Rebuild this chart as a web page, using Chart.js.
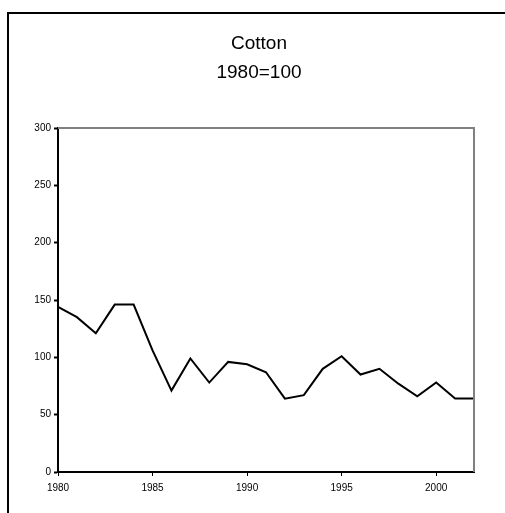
<!DOCTYPE html>
<html>
<head>
<meta charset="utf-8">
<script src="https://cdn.jsdelivr.net/npm/chart.js@4/dist/chart.umd.min.js"></script>
<style>
  html, body { margin: 0; padding: 0; background: #fff; overflow: hidden; width: 505px; height: 513px; }
  #frame { position: absolute; left: 7px; top: 12px; width: 600px; height: 600px;
           border-left: 2px solid #000; border-top: 2px solid #000; box-sizing: border-box; }
  #wrap { position: absolute; left: 0; top: 0; width: 518px; height: 513px; }
</style>
</head>
<body>
<div id="frame"></div>
<div id="wrap"><canvas id="chart" width="518" height="513"></canvas></div>
<script>
// Cotton price index, yearly
const years = [1980, 1981, 1982, 1983, 1984, 1985, 1986, 1987, 1988, 1989, 1990, 1991,
               1992, 1993, 1994, 1995, 1996, 1997, 1998, 1999, 2000, 2001, 2002];
const cottonIndex = [144, 135, 121, 146, 146, 106, 71, 99, 78, 96, 94, 87,
                     64, 67, 90, 101, 85, 90, 77, 66, 78, 64, 64];
const titleLines = ['Cotton', '1980=100'];

const points = years.map((y, i) => ({ x: y, y: cottonIndex[i] }));

// grey top and right edges of the plot box
const plotBox = {
  id: 'plotBox',
  afterDraw(chart) {
    const a = chart.chartArea, ctx = chart.ctx;
    ctx.save();
    ctx.strokeStyle = '#808080';
    ctx.lineWidth = 2;
    ctx.beginPath();
    ctx.moveTo(a.left, a.top);
    ctx.lineTo(a.right, a.top);
    ctx.lineTo(a.right, a.bottom);
    ctx.stroke();
    ctx.restore();
  }
};

const labelFont = { family: '"Liberation Sans", Arial, sans-serif', size: 10 };

new Chart(document.getElementById('chart'), {
  type: 'line',
  data: {
    datasets: [{
      data: points,
      borderColor: '#000',
      borderWidth: 2,
      pointRadius: 0,
      tension: 0,
      fill: false
    }]
  },
  options: {
    responsive: false,
    animation: false,
    events: [],
    layout: { padding: 0 },
    plugins: {
      legend: { display: false },
      tooltip: { enabled: false },
      title: {
        display: true,
        text: titleLines,
        color: '#000',
        font: { family: '"Liberation Sans", Arial, sans-serif', size: 19, weight: 'normal', lineHeight: '29px' },
        padding: { top: 29, bottom: 41 }
      }
    },
    scales: {
      x: {
        type: 'linear',
        min: 1980,
        max: 2002,
        afterFit(scale) { scale.height = 41; },
        border: { display: true, color: '#000', width: 2 },
        grid: { display: true, drawOnChartArea: false, drawTicks: true, tickLength: 4, tickColor: '#000', tickWidth: 1 },
        ticks: {
          stepSize: 5,
          includeBounds: false,
          padding: 6,
          maxRotation: 0,
          color: '#000',
          font: labelFont,
          callback: v => String(v)
        }
      },
      y: {
        min: 0,
        max: 300,
        afterFit(scale) { scale.width = 58; },
        border: { display: true, color: '#000', width: 2 },
        grid: { display: true, drawOnChartArea: false, drawTicks: true, tickLength: 4, tickColor: '#000', tickWidth: 2 },
        ticks: {
          stepSize: 50,
          padding: 3,
          color: '#000',
          font: labelFont
        }
      },
      // empty margin on the right of the plot box
      yRight: {
        position: 'right',
        min: 0,
        max: 300,
        afterFit(scale) { scale.width = 44; },
        border: { display: false },
        grid: { display: false },
        ticks: { display: false }
      }
    }
  },
  plugins: [plotBox]
});
</script>
</body>
</html>
